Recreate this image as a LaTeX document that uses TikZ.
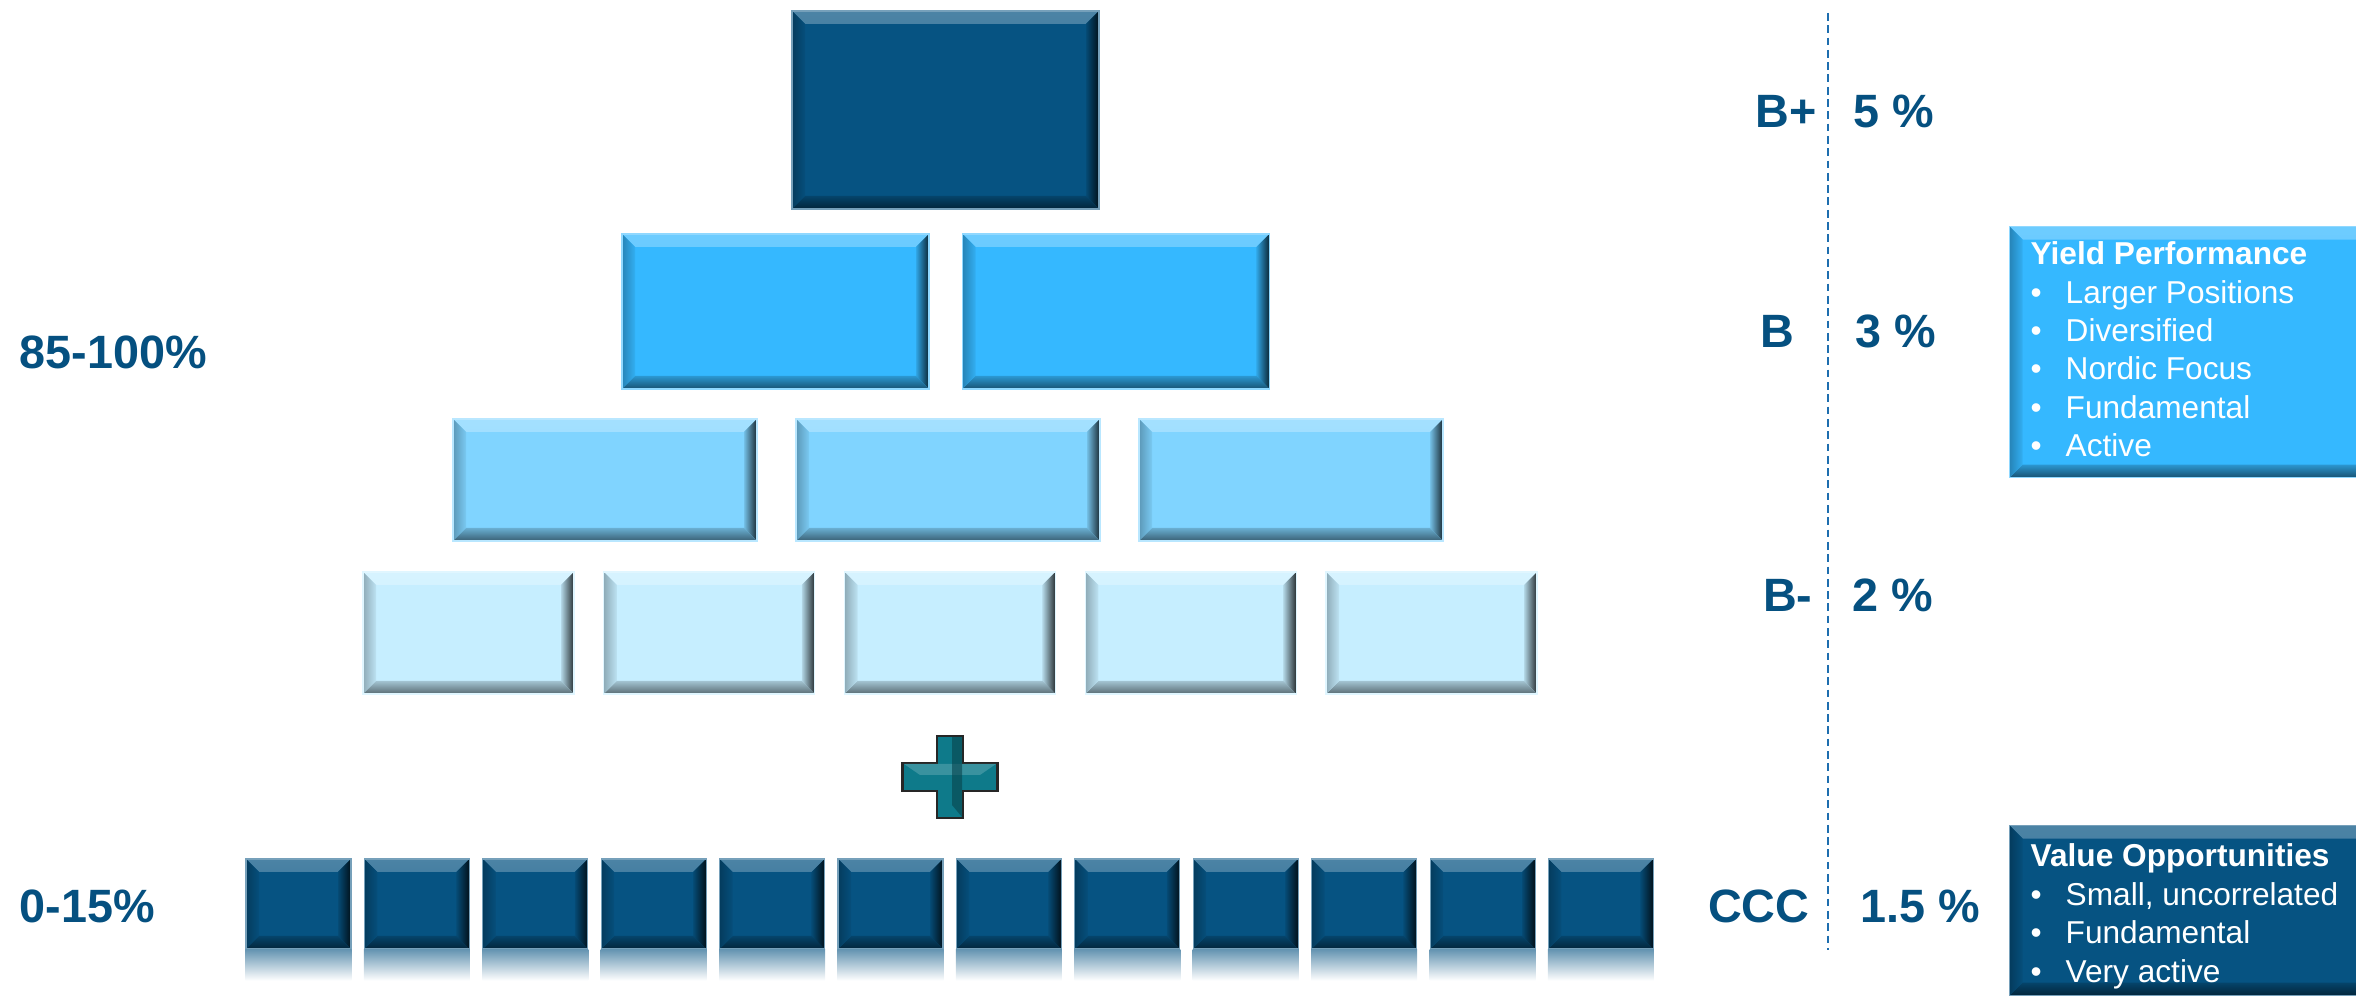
\documentclass[tikz,border=0pt]{standalone}
\usepackage{fontspec}
\setmainfont{Liberation Sans}
\usepackage{xcolor}
\usepackage{tikz}
\usetikzlibrary{positioning,calc}
\definecolor{navy}{RGB}{6,83,130}
\definecolor{skyblue}{RGB}{53,184,255}
\definecolor{paleblue}{RGB}{128,212,255}
\definecolor{iceblue}{RGB}{198,238,255}
\definecolor{plusteal}{RGB}{14,122,138}
\definecolor{labelblue}{RGB}{5,80,128}
\definecolor{dashblue}{RGB}{30,110,175}
\newcommand{\bev}{0.13cm}

\tikzset{
  brick/.style={rectangle, inner sep=0pt, fill=#1, draw=#1!55!white, line width=0.3pt,
    path picture={
      % top bevel, lit
      \shade[top color=#1!72!white, bottom color=#1!88!white]
        (path picture bounding box.north west) -- (path picture bounding box.north east)
        -- ([shift={(-\bev,-\bev)}]path picture bounding box.north east)
        -- ([shift={(\bev,-\bev)}]path picture bounding box.north west) -- cycle;
      % right bevel, in shadow
      \shade[left color=#1!90!black, right color=#1!20!black]
        (path picture bounding box.north east) -- (path picture bounding box.south east)
        -- ([shift={(-\bev,\bev)}]path picture bounding box.south east)
        -- ([shift={(-\bev,-\bev)}]path picture bounding box.north east) -- cycle;
      % bottom bevel
      \shade[top color=#1!82!black, bottom color=#1!45!black]
        (path picture bounding box.south west) -- (path picture bounding box.south east)
        -- ([shift={(-\bev,\bev)}]path picture bounding box.south east)
        -- ([shift={(\bev,\bev)}]path picture bounding box.south west) -- cycle;
      % left bevel
      \shade[left color=#1!72!black, right color=#1!95!black]
        (path picture bounding box.north west) -- ([shift={(\bev,-\bev)}]path picture bounding box.north west)
        -- ([shift={(\bev,\bev)}]path picture bounding box.south west)
        -- (path picture bounding box.south west) -- cycle;
    }},
  lbl/.style={font=\bfseries\fontsize{13.3}{16}\selectfont, text=labelblue, inner sep=0pt},
  info/.style={font=\fontsize{9}{11}\selectfont, text=white, inner sep=0pt, anchor=base west},
}

\begin{document}
\begin{tikzpicture}
    \useasboundingbox (0,0) rectangle (23.56,9.97);
    \clip (0,0) rectangle (23.56,9.97);
    % Pyramid: one apex brick, then 2, 3 and 5 bricks per tier
    \node[brick=navy, minimum width=3.07cm, minimum height=1.98cm] (apex) at (9.455, 8.87) {};
    \foreach \i in {1,2}
      \node[brick=skyblue, minimum width=3.07cm, minimum height=1.55cm] (tb\i) at ({7.755+3.405*(\i-1)}, 6.855) {};
    \foreach \i in {1,...,3}
      \node[brick=paleblue, minimum width=3.04cm, minimum height=1.22cm] (tc\i) at ({6.05+3.43*(\i-1)}, 5.17) {};
    \foreach \i in {1,...,5}
      \node[brick=iceblue, minimum width=2.11cm, minimum height=1.22cm] (td\i) at ({4.685+2.4075*(\i-1)}, 3.64) {};
    % Plus sign
    \coordinate (plus) at (9.50, 2.20);
    \filldraw[fill=plusteal, draw=black!85, line width=0.6pt, shift={(plus)}]
      (-0.13,0.41) -- (0.13,0.41) -- (0.13,0.14) -- (0.475,0.14) -- (0.475,-0.14) -- (0.13,-0.14)
      -- (0.13,-0.41) -- (-0.13,-0.41) -- (-0.13,-0.14) -- (-0.475,-0.14) -- (-0.475,0.14) -- (-0.13,0.14) -- cycle;
    \fill[plusteal!70!white, opacity=0.6, shift={(plus)}]
      (-0.46,0.13) -- (0.46,0.13) -- (0.30,0.02) -- (-0.30,0.02) -- cycle;
    \fill[plusteal!55!black, opacity=0.6, shift={(plus)}]
      (0.02,0.40) -- (0.12,0.40) -- (0.12,-0.40) -- (0.02,-0.28) -- cycle;
    % CCC row with reflections
    \foreach \i in {1,...,12} {
      \node[brick=navy, minimum width=1.05cm, minimum height=0.90cm] (ccc\i) at ({2.985+1.184*(\i-1)}, 0.93) {};
      \shade[top color=navy!62!white, bottom color=white] (ccc\i.south west) rectangle ([yshift=-0.31cm]ccc\i.south east);
    }
    % Left shares
    \node[lbl, anchor=base west] (top share) at (0.19, 6.28) {85-100\%};
    \node[lbl, anchor=base west] (low share) at (0.19, 0.74) {0-15\%};
    % Ratings and yields either side of the dashed line
    \coordinate (dtop) at (18.28, 9.84);
    \coordinate (dbot) at (18.28, 0.47);
    \draw[dashblue, line width=0.8pt, dash pattern=on 2.2pt off 1.3pt] (dtop) -- (dbot);
    \node[lbl, anchor=base east] (bplus) at (18.17, 8.69) {B+};
    \node[lbl, anchor=base west] (ybplus) at (18.53, 8.69) {5 \%};
    \node[lbl, anchor=base east] (b) at (17.95, 6.49) {B};
    \node[lbl, anchor=base west] (yb) at (18.55, 6.49) {3 \%};
    \node[lbl, anchor=base east] (bminus) at (18.13, 3.85) {B-};
    \node[lbl, anchor=base west] (ybminus) at (18.52, 3.85) {2 \%};
    \node[lbl, anchor=base east] (ccc) at (18.10, 0.74) {CCC};
    \node[lbl, anchor=base west] (yccc) at (18.60, 0.74) {1.5 \%};
    % Info boxes
    \node[brick=skyblue, minimum width=3.8cm, minimum height=2.51cm, anchor=north west] (yield) at (20.09, 7.71) {};
    \node[info, font=\bfseries\fontsize{9}{11}\selectfont] (yhead) at (20.30, 7.32) {Yield Performance};
    \foreach \txt [count=\i] in {Larger Positions, Diversified, Nordic Focus, Fundamental, Active}
      \node[info] (yl\i) at (20.30, {7.32-0.383*\i}) {\makebox[0.35cm][l]{\textbullet}\txt};
    \node[brick=navy, minimum width=3.8cm, minimum height=1.70cm, anchor=north west] (value) at (20.09, 1.72) {};
    \node[info, font=\bfseries\fontsize{9}{11}\selectfont] (vhead) at (20.30, 1.30) {Value Opportunities};
    \foreach \txt [count=\i] in {{Small, uncorrelated}, Fundamental, Very active}
      \node[info] (vl\i) at (20.30, {1.30-0.385*\i}) {\makebox[0.35cm][l]{\textbullet}\txt};
  \end{tikzpicture}
\end{document}
